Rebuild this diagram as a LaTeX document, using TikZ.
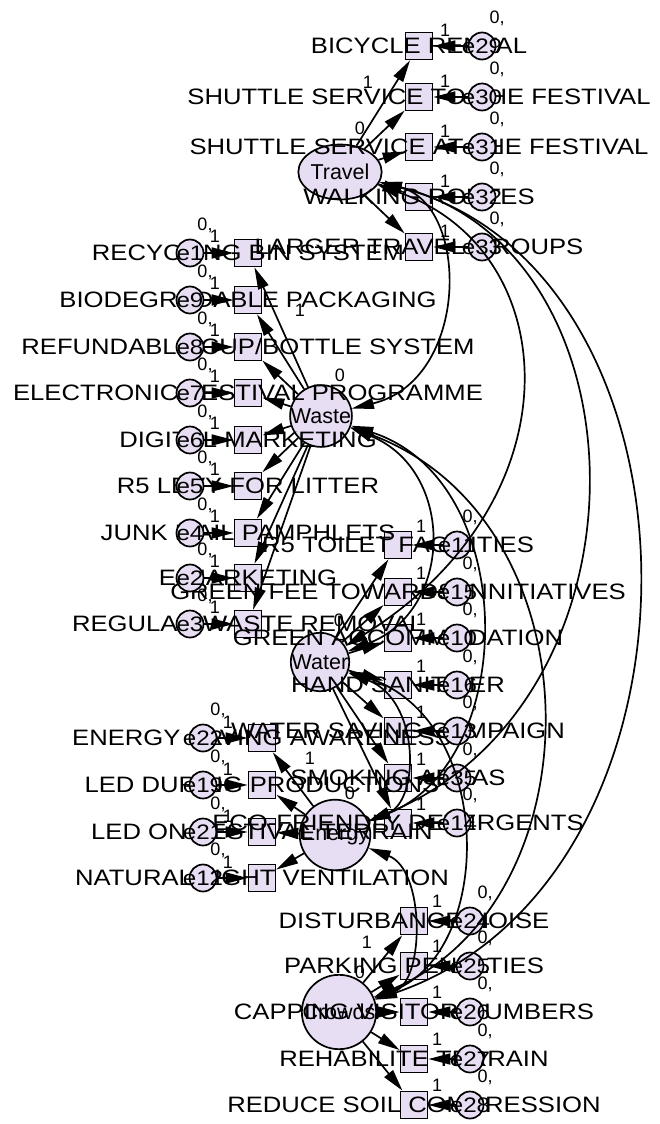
\documentclass[tikz,border=0pt]{standalone}
\usepackage{fontspec}
\setmainfont{Liberation Sans}
\newfontfamily\lblfont[FakeStretch=1.15]{Liberation Sans}
\usetikzlibrary{arrows.meta,shapes.geometric}
\definecolor{amosfill}{RGB}{232,222,243}
\tikzset{
  lat/.style={circle,draw,line width=1.7pt,fill=amosfill,minimum size=54pt,inner sep=0pt,font=\fontsize{21.5}{22}\selectfont},
  obs/.style={rectangle,draw,line width=1.7pt,fill=amosfill,minimum size=27pt,inner sep=0pt},
  errc/.style={circle,draw,line width=1.7pt,fill=amosfill,minimum size=27pt,inner sep=0pt},
  errt/.style={font=\lblfont\fontsize{21}{22}\selectfont,inner sep=0pt},
  lbl/.style={font=\lblfont\fontsize{22.3}{24}\selectfont,inner sep=0pt},
  num/.style={font=\fontsize{18}{19}\selectfont,inner sep=0pt},
  arr/.style={line width=1.7pt,-{Triangle[length=22pt,width=11pt]}},
  cov/.style={line width=1.7pt,{Triangle[length=22pt,width=11pt]}-{Triangle[length=22pt,width=11pt]}}
}
\def\Tlist{t1/46/BICYCLE RENTAL/e29,%
t2/97/SHUTTLE SERVICE TO THE FESTIVAL/e30,%
t3/147/SHUTTLE SERVICE AT THE FESTIVAL/e31,%
t4/197/WALKING ROUTES/e32,%
t5/247/LARGER TRAVEL GROUPS/e33}
\def\Wlist{w1/253/RECYCLING BIN SYSTEM/e1,%
w2/300/BIODEGRADABLE PACKAGING/e9,%
w3/347/{REFUNDABLE CUP/BOTTLE SYSTEM}/e8,%
w4/393/ELECTRONIC FESTIVAL PROGRAMME/e7,%
w5/440/DIGITAL MARKETING/e6,%
w6/486/R5 LEVY FOR LITTER/e5,%
w7/533/JUNK MAIL PAMPHLETS/e4,%
w8/578/E-MARKETING/e2,%
w9/624/REGULAR WASTE REMOVAL/e3}
\def\Alist{a1/545/R5 TOILET FACILITIES/e11,%
a2/592/GREEN FEE TOWARDS INNITIATIVES/e15,%
a3/638/GREEN ACCOMMODATION/e10,%
a4/685/HAND SANITIZER/e16,%
a5/731/WATER SAVING CAMPAIGN/e13,%
a6/778/SMOKING AREAS/e35,%
a7/823/ECO-FRIENDLY DETERGENTS/e14}
\def\Elist{n1/738/ENERGY SAVING AWARENESS/e22,%
n2/785/LED DURING PRODUCTIONS/e19,%
n3/832/LED ON FESTIVAL TERRAIN/e21,%
n4/878/NATURAL LIGHT VENTILATION/e12}
\def\Clist{c1/921/DISTURBANCE NOISE/e24,%
c2/966/PARKING PENALTIES/e25,%
c3/1012/CAPPING VISITOR NUMBERS/e26,%
c4/1059/REHABILITE TERRAIN/e27,%
c5/1105/REDUCE SOIL COMPRESSION/e28}
\begin{document}
\begin{tikzpicture}[x=1pt,y=-1pt]
\useasboundingbox[fill=white] (0,0) rectangle (659,1124);
% latent factors
\node[lat,ellipse,minimum width=60pt,minimum height=55pt] (T) at (340,172) {Travel};
\node[lat] (W) at (321,416) {Waste};
\node[lat,minimum size=53pt] (A) at (320,662) {Water};
\node[lat,minimum size=57pt] (E) at (335,835) {Energy};
\node[lat,minimum size=53pt] (C) at (339,1012) {Crowds};
% squares
\foreach \n/\y/\t/\e in \Tlist {\node[obs] (\n) at (419,\y) {};}
\foreach \n/\y/\t/\e in \Wlist {\node[obs] (\n) at (248,\y) {};}
\foreach \n/\y/\t/\e in \Alist {\node[obs] (\n) at (398,\y) {};}
\foreach \n/\y/\t/\e in \Elist {\node[obs] (\n) at (262,\y) {};}
\foreach \n/\y/\t/\e in \Clist {\node[obs] (\n) at (414,\y) {};}
% indicator texts
\foreach \n/\y/\t/\e in \Tlist {\node[lbl] (x\n) at (419,\y) {\t};}
\foreach \n/\y/\t/\e in \Wlist {\node[lbl] (x\n) at (248,\y) {\t};}
\foreach \n/\y/\t/\e in \Alist {\node[lbl] (x\n) at (398,\y) {\t};}
\foreach \n/\y/\t/\e in \Elist {\node[lbl] (x\n) at (262,\y) {\t};}
\foreach \n/\y/\t/\e in \Clist {\node[lbl] (x\n) at (414,\y) {\t};}
% error circles and their names
\foreach \n/\y/\t/\e in \Tlist {\node[errc] (e\n) at (482,\y) {}; \node[errt] at (e\n) {\e};}
\foreach \n/\y/\t/\e in \Wlist {\node[errc] (e\n) at (190,\y) {}; \node[errt] at (e\n) {\e};}
\foreach \n/\y/\t/\e in \Alist {\node[errc] (e\n) at (457,\y) {}; \node[errt] at (e\n) {\e};}
\foreach \n/\y/\t/\e in \Elist {\node[errc] (e\n) at (203,\y) {}; \node[errt] at (e\n) {\e};}
\foreach \n/\y/\t/\e in \Clist {\node[errc] (e\n) at (470,\y) {}; \node[errt] at (e\n) {\e};}
% loadings and error paths
\foreach \n/\y/\t/\e in \Tlist {\draw[arr] (T) -- (\n); \draw[arr] (e\n) -- (\n);}
\foreach \n/\y/\t/\e in \Wlist {\draw[arr] (W) -- (\n); \draw[arr] (e\n) -- (\n);}
\foreach \n/\y/\t/\e in \Alist {\draw[arr] (A) -- (\n); \draw[arr] (e\n) -- (\n);}
\foreach \n/\y/\t/\e in \Elist {\draw[arr] (E) -- (\n); \draw[arr] (e\n) -- (\n);}
\foreach \n/\y/\t/\e in \Clist {\draw[arr] (C) -- (\n); \draw[arr] (e\n) -- (\n);}
% covariances
\draw[cov] (T) .. controls (470,205) and (470,380) .. (W);
\draw[cov] (T) .. controls (565,250) and (580,500) .. (A);
\draw[cov] (T) .. controls (650,250) and (660,700) .. (E);
\draw[cov] (T) .. controls (720,270) and (725,880) .. (C);
\draw[cov] (W) .. controls (455,470) and (455,610) .. (A);
\draw[cov] (W) .. controls (520,480) and (520,760) .. (E);
\draw[cov] (W) .. controls (600,520) and (600,900) .. (C);
\draw[cov] (A) .. controls (420,700) and (420,800) .. (E);
\draw[cov] (A) .. controls (495,720) and (495,950) .. (C);
\draw[cov] (E) .. controls (425,870) and (425,980) .. (C);
% numbers: error parameters
\foreach \n/\y/\t/\e in \Tlist {\node[num] at (497,{\y-28}) {0,}; \node[num] at (445,{\y-16}) {1};}
\foreach \n/\y/\t/\e in \Wlist {\node[num] at (205,{\y-28}) {0,}; \node[num] at (215,{\y-17}) {1};}
\foreach \n/\y/\t/\e in \Alist {\node[num] at (470,{\y-28}) {0,}; \node[num] at (421,{\y-19}) {1};}
\foreach \n/\y/\t/\e in \Elist {\node[num] at (218,{\y-28}) {0,}; \node[num] at (228,{\y-16}) {1};}
\foreach \n/\y/\t/\e in \Clist {\node[num] at (485,{\y-28}) {0,}; \node[num] at (437,{\y-20}) {1};}
% factor means and fixed loadings
\node[num] (mT) at (360,128) {0};
\node[num] (mW) at (340,375) {0};
\node[num] (mA) at (339,620) {0};
\node[num] (mE) at (350,793) {0};
\node[num] (mC) at (360,972) {0};
\node[num] (lT) at (368,82) {1};
\node[num] (lW) at (300,310) {1};
\node[num] (lE) at (310,758) {1};
\node[num] (lC) at (367,942) {1};
\end{tikzpicture}
\end{document}
